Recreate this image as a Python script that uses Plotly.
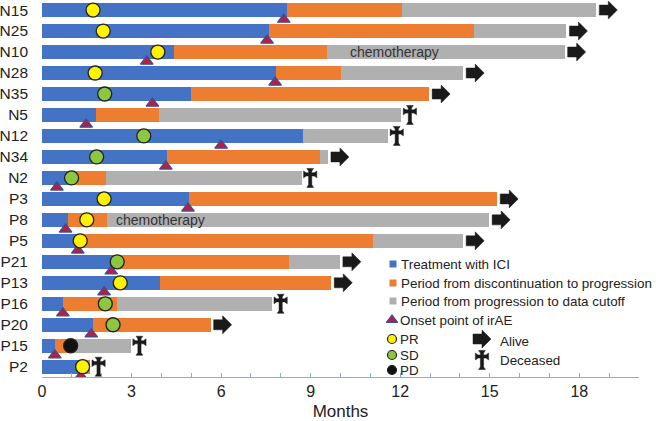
import plotly.graph_objects as go

patients = ["N15","N25","N10","N28","N35","N5","N12","N34","N2","P3","P8","P5","P21","P13","P16","P20","P15","P2"]
ici_end = [8.2, 7.62, 4.41, 7.84, 4.98, 1.81, 8.74, 4.2, 0.94, 4.94, 0.86, 1.22, 2.5, 3.94, 0.71, 1.7, 0.43, 1.27]
prog_time = [12.05, 14.48, 9.54, 10.01, 12.97, 3.92, 8.74, 9.31, 2.13, 15.25, 2.18, 11.1, 8.28, 9.69, 2.52, 5.65, 0.9, 1.61]
cutoff = [18.57, 17.57, 17.51, 14.11, 12.97, 12.04, 11.6, 9.58, 8.7, 15.25, 14.98, 14.11, 9.98, 9.69, 7.71, 5.65, 2.98, 1.61]
status = ["Alive","Alive","Alive","Alive","Alive","Deceased","Deceased","Alive","Deceased","Alive","Alive","Alive","Alive","Alive","Deceased","Alive","Deceased","Deceased"]
response = ["PR","PR","PR","PR","SD",None,"SD","SD","SD","PR","PR","PR","SD","PR","SD","SD","PD","PR"]
response_time = [1.71, 2.05, 3.88, 1.78, 2.1, None, 3.41, 1.83, 0.99, 2.08, 1.5, 1.28, 2.52, 2.62, 2.12, 2.38, 0.96, 1.36]
irae_time = [8.1, 7.54, 3.51, 7.81, 3.7, 1.48, 6.0, 4.15, 0.5, 4.89, 0.79, 1.2, 2.32, 2.08, 0.7, 1.65, 0.43, 1.3]
chemo_patients = ["N10", "P8"]
chemo_pos = [11.8, 3.97]
x_ticks = [0, 3, 6, 9, 12, 15, 18]

BLUE = "#4472C4"
ORANGE = "#ED7D31"
GRAY = "#B0B0B0"
RESP_COL = {"PR": "#FFF200", "SD": "#8DC63F", "PD": "#111111"}
TRI_FILL = "#B5203F"
TRI_LINE = "#3A4FA0"
DARK = "#1A1A1A"
FONT = "Liberation Sans, Arial, sans-serif"

# pixel scale of the axes (for sizing symbol polygons)
PX_PER_MONTH = 597 / 20.0
PX_PER_ROW = 377 / 17.97

rows = list(range(len(patients)))
fig = go.Figure()

bw = 0.66
fig.add_trace(go.Bar(y=rows, x=ici_end, base=[0]*len(rows), orientation="h", width=bw,
                     marker=dict(color=BLUE, line=dict(width=0)), showlegend=False, hoverinfo="skip"))
fig.add_trace(go.Bar(y=rows, x=[p - i for p, i in zip(prog_time, ici_end)], base=ici_end, orientation="h", width=bw,
                     marker=dict(color=ORANGE, line=dict(width=0)), showlegend=False, hoverinfo="skip"))
fig.add_trace(go.Bar(y=rows, x=[c - p for c, p in zip(cutoff, prog_time)], base=prog_time, orientation="h", width=bw,
                     marker=dict(color=GRAY, line=dict(width=0)), showlegend=False, hoverinfo="skip"))

# irAE triangles
fig.add_trace(go.Scatter(x=irae_time, y=[r + 0.45 for r in rows], mode="markers",
                         marker=dict(symbol="triangle-up", size=11, color=TRI_FILL, line=dict(color=TRI_LINE, width=1.2)),
                         showlegend=False, hoverinfo="skip"))

# response circles
for resp in ["PR", "SD", "PD"]:
    xs = [t for t, r in zip(response_time, response) if r == resp]
    ys = [i for i, r in zip(rows, response) if r == resp]
    fig.add_trace(go.Scatter(x=xs, y=ys, mode="markers",
                             marker=dict(symbol="circle", size=14, color=RESP_COL[resp], line=dict(color="#222222", width=1.3)),
                             showlegend=False, hoverinfo="skip"))

# symbol outlines in pixel offsets (x right, y down)
ARROW_PX = [(3, -5), (12, -5), (12, -9), (21, 0), (12, 9), (12, 5), (3, 5), (3, -5)]

def cross_px(cx):
    w, f, L, top, bot, arm, hy = 1.6, 3.4, 2.6, -9.5, 9.5, 6.6, -3.5
    pts = [(-f, top), (f, top), (w, top + L), (w, hy - w), (arm - L, hy - w), (arm, hy - f), (arm, hy + f),
           (arm - L, hy + w), (w, hy + w), (w, bot - L), (f, bot), (-f, bot), (-w, bot - L), (-w, hy + w),
           (-arm + L, hy + w), (-arm, hy + f), (-arm, hy - f), (-arm + L, hy - w), (-w, hy - w), (-w, top + L), (-f, top)]
    return [(cx + x, y) for x, y in pts]

CROSS_PX = cross_px(8.5)

def poly_data(x0, yc, pts):
    xs = [x0 + px / PX_PER_MONTH for px, _ in pts]
    ys = [yc + py / PX_PER_ROW for _, py in pts]
    return xs, ys

ax, ay, dx, dy = [], [], [], []
for c, s, r in zip(cutoff, status, rows):
    if s == "Alive":
        xs, ys = poly_data(c, r, ARROW_PX)
        ax += xs + [None]; ay += ys + [None]
    else:
        xs, ys = poly_data(c, r, CROSS_PX)
        dx += xs + [None]; dy += ys + [None]
fig.add_trace(go.Scatter(x=ax, y=ay, mode="lines", fill="toself", fillcolor=DARK,
                         line=dict(color=DARK, width=0.5), showlegend=False, hoverinfo="skip"))
fig.add_trace(go.Scatter(x=dx, y=dy, mode="lines", fill="toself", fillcolor=DARK,
                         line=dict(color=DARK, width=0.5), showlegend=False, hoverinfo="skip"))

annotations = []
for p, pos in zip(chemo_patients, chemo_pos):
    annotations.append(dict(x=pos, y=patients.index(p), xref="x", yref="y", text="chemotherapy",
                            showarrow=False, font=dict(family=FONT, size=14, color="#333333")))

# manual legend on hidden overlay axes measured in pixels of the plot area
LF = dict(family=FONT, size=13.4, color="#222222")
leg_items = [
    (BLUE, 264, "Treatment with ICI"),
    (ORANGE, 283, "Period from discontinuation to progression"),
    (GRAY, 301, "Period from progression to data cutoff"),
]
for col, yy, label in leg_items:
    fig.add_trace(go.Scatter(x=[393], y=[yy], xaxis="x2", yaxis="y2", mode="markers",
                             marker=dict(symbol="square", size=7, color=col), showlegend=False, hoverinfo="skip"))
    annotations.append(dict(x=399, y=yy, xref="x2", yref="y2", text=label, showarrow=False,
                            xanchor="left", yanchor="middle", font=LF))
fig.add_trace(go.Scatter(x=[392], y=[320], xaxis="x2", yaxis="y2", mode="markers",
                         marker=dict(symbol="triangle-up", size=10, color=TRI_FILL, line=dict(color=TRI_LINE, width=1.2)),
                         showlegend=False, hoverinfo="skip"))
annotations.append(dict(x=398, y=320, xref="x2", yref="y2", text="Onset point of irAE", showarrow=False,
                        xanchor="left", yanchor="middle", font=LF))
for resp, yy in zip(["PR", "SD", "PD"], [339, 355, 370]):
    fig.add_trace(go.Scatter(x=[392], y=[yy], xaxis="x2", yaxis="y2", mode="markers",
                             marker=dict(symbol="circle", size=9, color=RESP_COL[resp], line=dict(color="#222222", width=1.2)),
                             showlegend=False, hoverinfo="skip"))
    annotations.append(dict(x=398, y=yy, xref="x2", yref="y2", text=resp, showarrow=False,
                            xanchor="left", yanchor="middle", font=LF))
lax = [470 + px for px, _ in ARROW_PX]
lay = [339 + py for _, py in ARROW_PX]
fig.add_trace(go.Scatter(x=lax, y=lay, xaxis="x2", yaxis="y2", mode="lines", fill="toself", fillcolor=DARK,
                         line=dict(color=DARK, width=0.5), showlegend=False, hoverinfo="skip"))
ldx = [473.5 + px for px, _ in CROSS_PX]
ldy = [360 + py for _, py in CROSS_PX]
fig.add_trace(go.Scatter(x=ldx, y=ldy, xaxis="x2", yaxis="y2", mode="lines", fill="toself", fillcolor=DARK,
                         line=dict(color=DARK, width=0.5), showlegend=False, hoverinfo="skip"))
annotations.append(dict(x=498, y=341, xref="x2", yref="y2", text="Alive", showarrow=False,
                        xanchor="left", yanchor="middle", font=LF))
annotations.append(dict(x=498, y=360, xref="x2", yref="y2", text="Deceased", showarrow=False,
                        xanchor="left", yanchor="middle", font=LF))

AXC = "#8FAADC"
fig.update_layout(
    width=656, height=421,
    margin=dict(l=42, r=17, t=0, b=44, autoexpand=False),
    paper_bgcolor="white", plot_bgcolor="white",
    barmode="overlay", bargap=0,
    showlegend=False,
    font=dict(family=FONT, color="#222222"),
    annotations=annotations,
    xaxis=dict(range=[0, 20], tickvals=x_ticks, ticktext=[str(t) for t in x_ticks], automargin=False,
               showgrid=False, zeroline=False, showline=True, linecolor=AXC, linewidth=1.2,
               ticks="inside", ticklen=4, tickcolor=AXC, tickwidth=1,
               minor=dict(dtick=1, ticks="inside", ticklen=4, tickcolor=AXC, tickwidth=1, showgrid=False),
               tickfont=dict(family=FONT, size=16, color="#222222"),
               title=dict(text="Months", font=dict(family=FONT, size=17, color="#222222"), standoff=6)),
    yaxis=dict(range=[17.49, -0.48], tickvals=rows, ticktext=patients, showgrid=False, zeroline=False,
               showline=False, ticks="", ticklabelstandoff=13, automargin=False,
               tickfont=dict(family=FONT, size=15.5, color="#222222")),
    xaxis2=dict(range=[42, 639], overlaying="x", visible=False, automargin=False),
    yaxis2=dict(range=[377, 0], overlaying="y", visible=False, automargin=False),
)

fig.write_html("out.html", config={"displayModeBar": False, "staticPlot": True},
               post_script="document.body.style.margin='0';document.body.style.padding='0';")
